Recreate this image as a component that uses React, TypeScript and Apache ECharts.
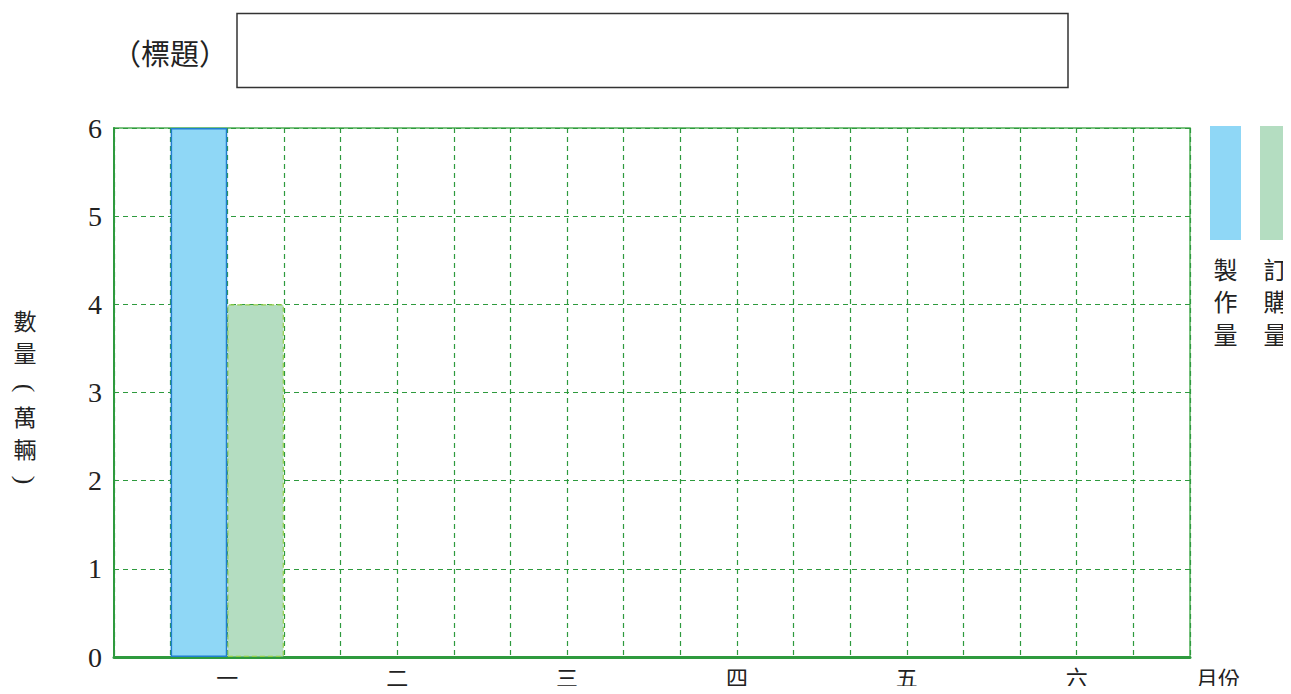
import React, { useEffect, useRef } from "react";
import * as echarts from "echarts";

const months = ["一", "二", "三", "四", "五", "六"];
const production = [6, null, null, null, null, null];
const orders = [4, null, null, null, null, null];
const yTicks = [0, 1, 2, 3, 4, 5, 6];
const seriesNames = ["製作量", "訂購量"];
const yName = ["數", "量", "(", "萬", "輛", ")"];

const CJK = '"Noto Sans CJK TC", "Noto Sans CJK SC", sans-serif';
const SERIF = '"Liberation Serif", "DejaVu Serif", serif';
const GREEN = "#2e9a3e";
const BLUE_FILL = "#8fd7f6";
const BLUE_EDGE = "#1f7fcf";
const GREEN_FILL = "#b4ddc1";
const GREEN_EDGE = "#94cf4a";

export default function App() {
  const ref = useRef<HTMLDivElement>(null);
  useEffect(() => {
    if (!ref.current) return;
    const chart = echarts.init(ref.current, undefined, { renderer: "svg" });
    const cols = months.length * 3 + 1;
    const gridLeft = 114;
    const gridRight = 101;
    const plotW = 1291 - gridLeft - gridRight;
    const colW = plotW / cols;
    const prodData = production
      .map((v, i) => (v == null ? null : [i * 3 + 1.5, v]))
      .filter((d) => d != null);
    const ordData = orders
      .map((v, i) => (v == null ? null : [i * 3 + 2.5, v]))
      .filter((d) => d != null);

    const legendGraphics: any[] = [];
    const legendColors = [BLUE_FILL, GREEN_FILL];
    seriesNames.forEach((n, i) => {
      const x = 1210 + i * 50;
      legendGraphics.push({
        type: "rect",
        shape: { x, y: 126, width: 31, height: 114 },
        style: { fill: legendColors[i] },
      });
      n.split("").forEach((ch, j) => {
        legendGraphics.push({
          type: "text",
          x: x + 15.5,
          y: 268 + j * 32.5,
          style: {
            text: ch,
            font: `24px ${CJK}`,
            fill: "#222",
            align: "center",
            verticalAlign: "middle",
          },
        });
      });
    });

    const yCenters = [320, 352, 388, 416, 448, 480];
    const yNameGraphics = yName.map((ch, j) => {
      const paren = ch === "(" || ch === ")";
      return {
        type: "text",
        x: 25,
        y: yCenters[j],
        rotation: paren ? -Math.PI / 2 : 0,
        style: {
          text: ch,
          font: paren ? `26px ${SERIF}` : `23px ${CJK}`,
          fill: "#222",
          align: "center",
          verticalAlign: "middle",
        },
      };
    });

    chart.setOption({
      animation: false,
      grid: {
        left: gridLeft,
        right: gridRight,
        top: 128,
        bottom: 37,
        show: true,
        borderColor: "#4fae55",
        borderWidth: 1.5,
        backgroundColor: "transparent",
      },
      xAxis: {
        type: "value",
        min: 0,
        max: cols,
        interval: 1,
        axisLine: { show: true, lineStyle: { color: GREEN, width: 3 } },
        axisTick: { show: false },
        splitLine: {
          show: true,
          lineStyle: { color: GREEN, width: 1.2, type: [5, 4] },
        },
        axisLabel: {
          margin: 8,
          fontFamily: CJK,
          fontSize: 22,
          color: "#222",
          showMinLabel: true,
          showMaxLabel: true,
          formatter: (v: number) => {
            const r = Math.round(v);
            if ((r - 2) % 3 === 0 && r >= 2) {
              const idx = (r - 2) / 3;
              return months[idx] ?? "";
            }
            return "";
          },
        },
      },
      yAxis: {
        type: "value",
        min: yTicks[0],
        max: yTicks[yTicks.length - 1],
        interval: 1,
        axisLine: { show: true, lineStyle: { color: GREEN, width: 2 } },
        axisTick: { show: false },
        splitLine: {
          show: true,
          lineStyle: { color: GREEN, width: 1.2, type: [5, 4] },
        },
        axisLabel: {
          margin: 12,
          fontFamily: SERIF,
          fontSize: 28,
          color: "#222",
        },
      },
      series: [
        {
          name: seriesNames[0],
          type: "bar",
          data: prodData,
          barWidth: colW,
          barGap: "-100%",
          itemStyle: {
            color: BLUE_FILL,
            borderColor: BLUE_EDGE,
            borderWidth: 1.5,
            borderType: "solid",
          },
          z: 3,
        },
        {
          name: seriesNames[1],
          type: "bar",
          data: ordData,
          barWidth: colW,
          barGap: "-100%",
          itemStyle: {
            color: GREEN_FILL,
            borderColor: GREEN_EDGE,
            borderWidth: 1.2,
            borderType: [5, 3],
          },
          z: 2,
        },
      ],
      graphic: [
        {
          type: "text",
          x: 112,
          y: 52,
          style: {
            text: "（標題）",
            font: `29px ${CJK}`,
            fill: "#222",
            align: "left",
            verticalAlign: "middle",
          },
        },
        {
          type: "rect",
          shape: { x: 237, y: 13.5, width: 831, height: 74 },
          style: { fill: "transparent", stroke: "#333", lineWidth: 1.5 },
        },
        ...yNameGraphics,
        {
          type: "text",
          x: 1196,
          y: 677,
          style: {
            text: "月份",
            font: `22px ${CJK}`,
            fill: "#222",
            align: "left",
            verticalAlign: "middle",
          },
        },
        ...legendGraphics,
      ],
    });
    return () => chart.dispose();
  }, []);
  return <div ref={ref} style={{ width: 1291, height: 694, margin: -8 }} />;
}
